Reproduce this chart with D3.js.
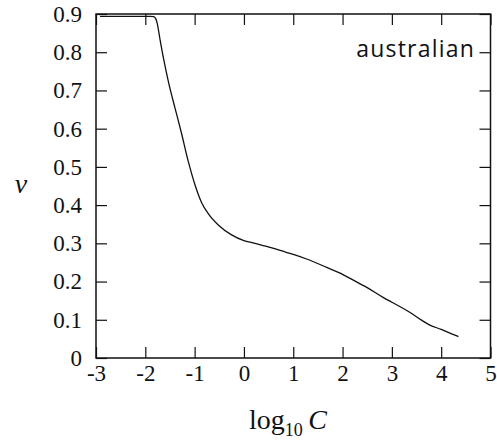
<!DOCTYPE html>
<html>
<head>
<meta charset="utf-8">
<script src="https://cdn.jsdelivr.net/npm/d3@7"></script>
<style>
  body { margin: 0; background: #fff; }
  svg { display: block; }
  .num { font-family: "Liberation Serif", "DejaVu Serif", serif; }
</style>
</head>
<body>
<svg id="chart" width="497" height="442"></svg>
<script>
// log10 C against nu
const logC = [-2.92, -2.4, -1.9, -1.83, -1.79, -1.76, -1.7, -1.63, -1.53, -1.4, -1.27, -1.13, -0.99,
  -0.86, -0.72, -0.52, -0.25, 0.0, 0.19, 0.46, 0.87, 1.0, 1.27, 1.68, 1.95, 2.2, 2.5, 2.83,
  3.0, 3.37, 3.6, 3.77, 4.0, 4.2, 4.35];
const nu = [0.894, 0.894, 0.894, 0.893, 0.888, 0.876, 0.832, 0.783, 0.722, 0.655, 0.59, 0.515, 0.452,
  0.407, 0.377, 0.348, 0.322, 0.307, 0.301, 0.292, 0.276, 0.271, 0.259, 0.237, 0.222, 0.205, 0.184, 0.158,
  0.146, 0.119, 0.099, 0.086, 0.075, 0.064, 0.056];
const xTicks = [-3, -2, -1, 0, 1, 2, 3, 4, 5];
const yTicks = [0, 0.1, 0.2, 0.3, 0.4, 0.5, 0.6, 0.7, 0.8, 0.9];
const label = 'australian';

const svg = d3.select('#chart');
const margin = { left: 96, right: 6.5, top: 14, bottom: 84 };
const width = +svg.attr('width');
const height = +svg.attr('height');

const x = d3.scaleLinear().domain([-3, 5]).range([margin.left, width - margin.right]);
const y = d3.scaleLinear().domain([0, 0.9]).range([height - margin.bottom, margin.top]);

const tick = 11;

function styleAxis(g) {
  g.attr('font-family', null).attr('font-size', 23);
  g.select('.domain').remove();
  g.selectAll('.tick line').attr('stroke', '#111').attr('stroke-width', 1.2);
  g.selectAll('.tick text').attr('class', 'num').attr('fill', '#111');
}

svg.append('g')
  .attr('transform', `translate(0,${y(0)})`)
  .call(d3.axisBottom(x).tickValues(xTicks).tickSize(-tick).tickPadding(7)
    .tickFormat(d => String(d)))
  .call(styleAxis);

svg.append('g')
  .attr('transform', `translate(0,${y(0.9)})`)
  .call(d3.axisTop(x).tickValues(xTicks).tickSize(-tick).tickFormat(''))
  .call(styleAxis);

svg.append('g')
  .attr('transform', `translate(${x(-3)},0)`)
  .call(d3.axisLeft(y).tickValues(yTicks).tickSize(-tick).tickPadding(14)
    .tickFormat(d => d === 0 ? '0' : d3.format('.1f')(d)))
  .call(styleAxis);

svg.append('g')
  .attr('transform', `translate(${x(5)},0)`)
  .call(d3.axisRight(y).tickValues(yTicks).tickSize(-tick).tickFormat(''))
  .call(styleAxis);

// frame
svg.append('rect')
  .attr('x', x(-3))
  .attr('y', y(0.9))
  .attr('width', x(5) - x(-3))
  .attr('height', y(0) - y(0.9))
  .attr('fill', 'none')
  .attr('stroke', '#111')
  .attr('stroke-width', 1.5);

const line = d3.line()
  .x((d, i) => x(logC[i]))
  .y(d => y(d))
  .curve(d3.curveMonotoneX);

svg.append('path')
  .datum(nu)
  .attr('fill', 'none')
  .attr('stroke', '#111')
  .attr('stroke-width', 1.3)
  .attr('d', line);

svg.append('text')
  .attr('x', 475)
  .attr('y', 57)
  .attr('text-anchor', 'end')
  .attr('font-family', '"Open Sans", sans-serif')
  .attr('font-size', 23)
  .attr('letter-spacing', 1.2)
  .attr('fill', '#111')
  .text(label);

// axis titles
const xt = svg.append('text')
  .attr('class', 'num')
  .attr('x', 288)
  .attr('y', 429)
  .attr('text-anchor', 'middle')
  .attr('fill', '#111')
  .attr('font-size', 28);
xt.append('tspan').text('log');
xt.append('tspan').attr('dy', 7).attr('font-size', 18).text('10');
xt.append('tspan').attr('dy', -7).text('\u2009');
xt.append('tspan').attr('font-style', 'italic').text('C');

svg.append('text')
  .attr('class', 'num')
  .attr('x', 21)
  .attr('y', 193)
  .attr('text-anchor', 'middle')
  .attr('fill', '#111')
  .attr('font-style', 'italic')
  .attr('font-size', 28)
  .text('\u03bd');
</script>
</body>
</html>
